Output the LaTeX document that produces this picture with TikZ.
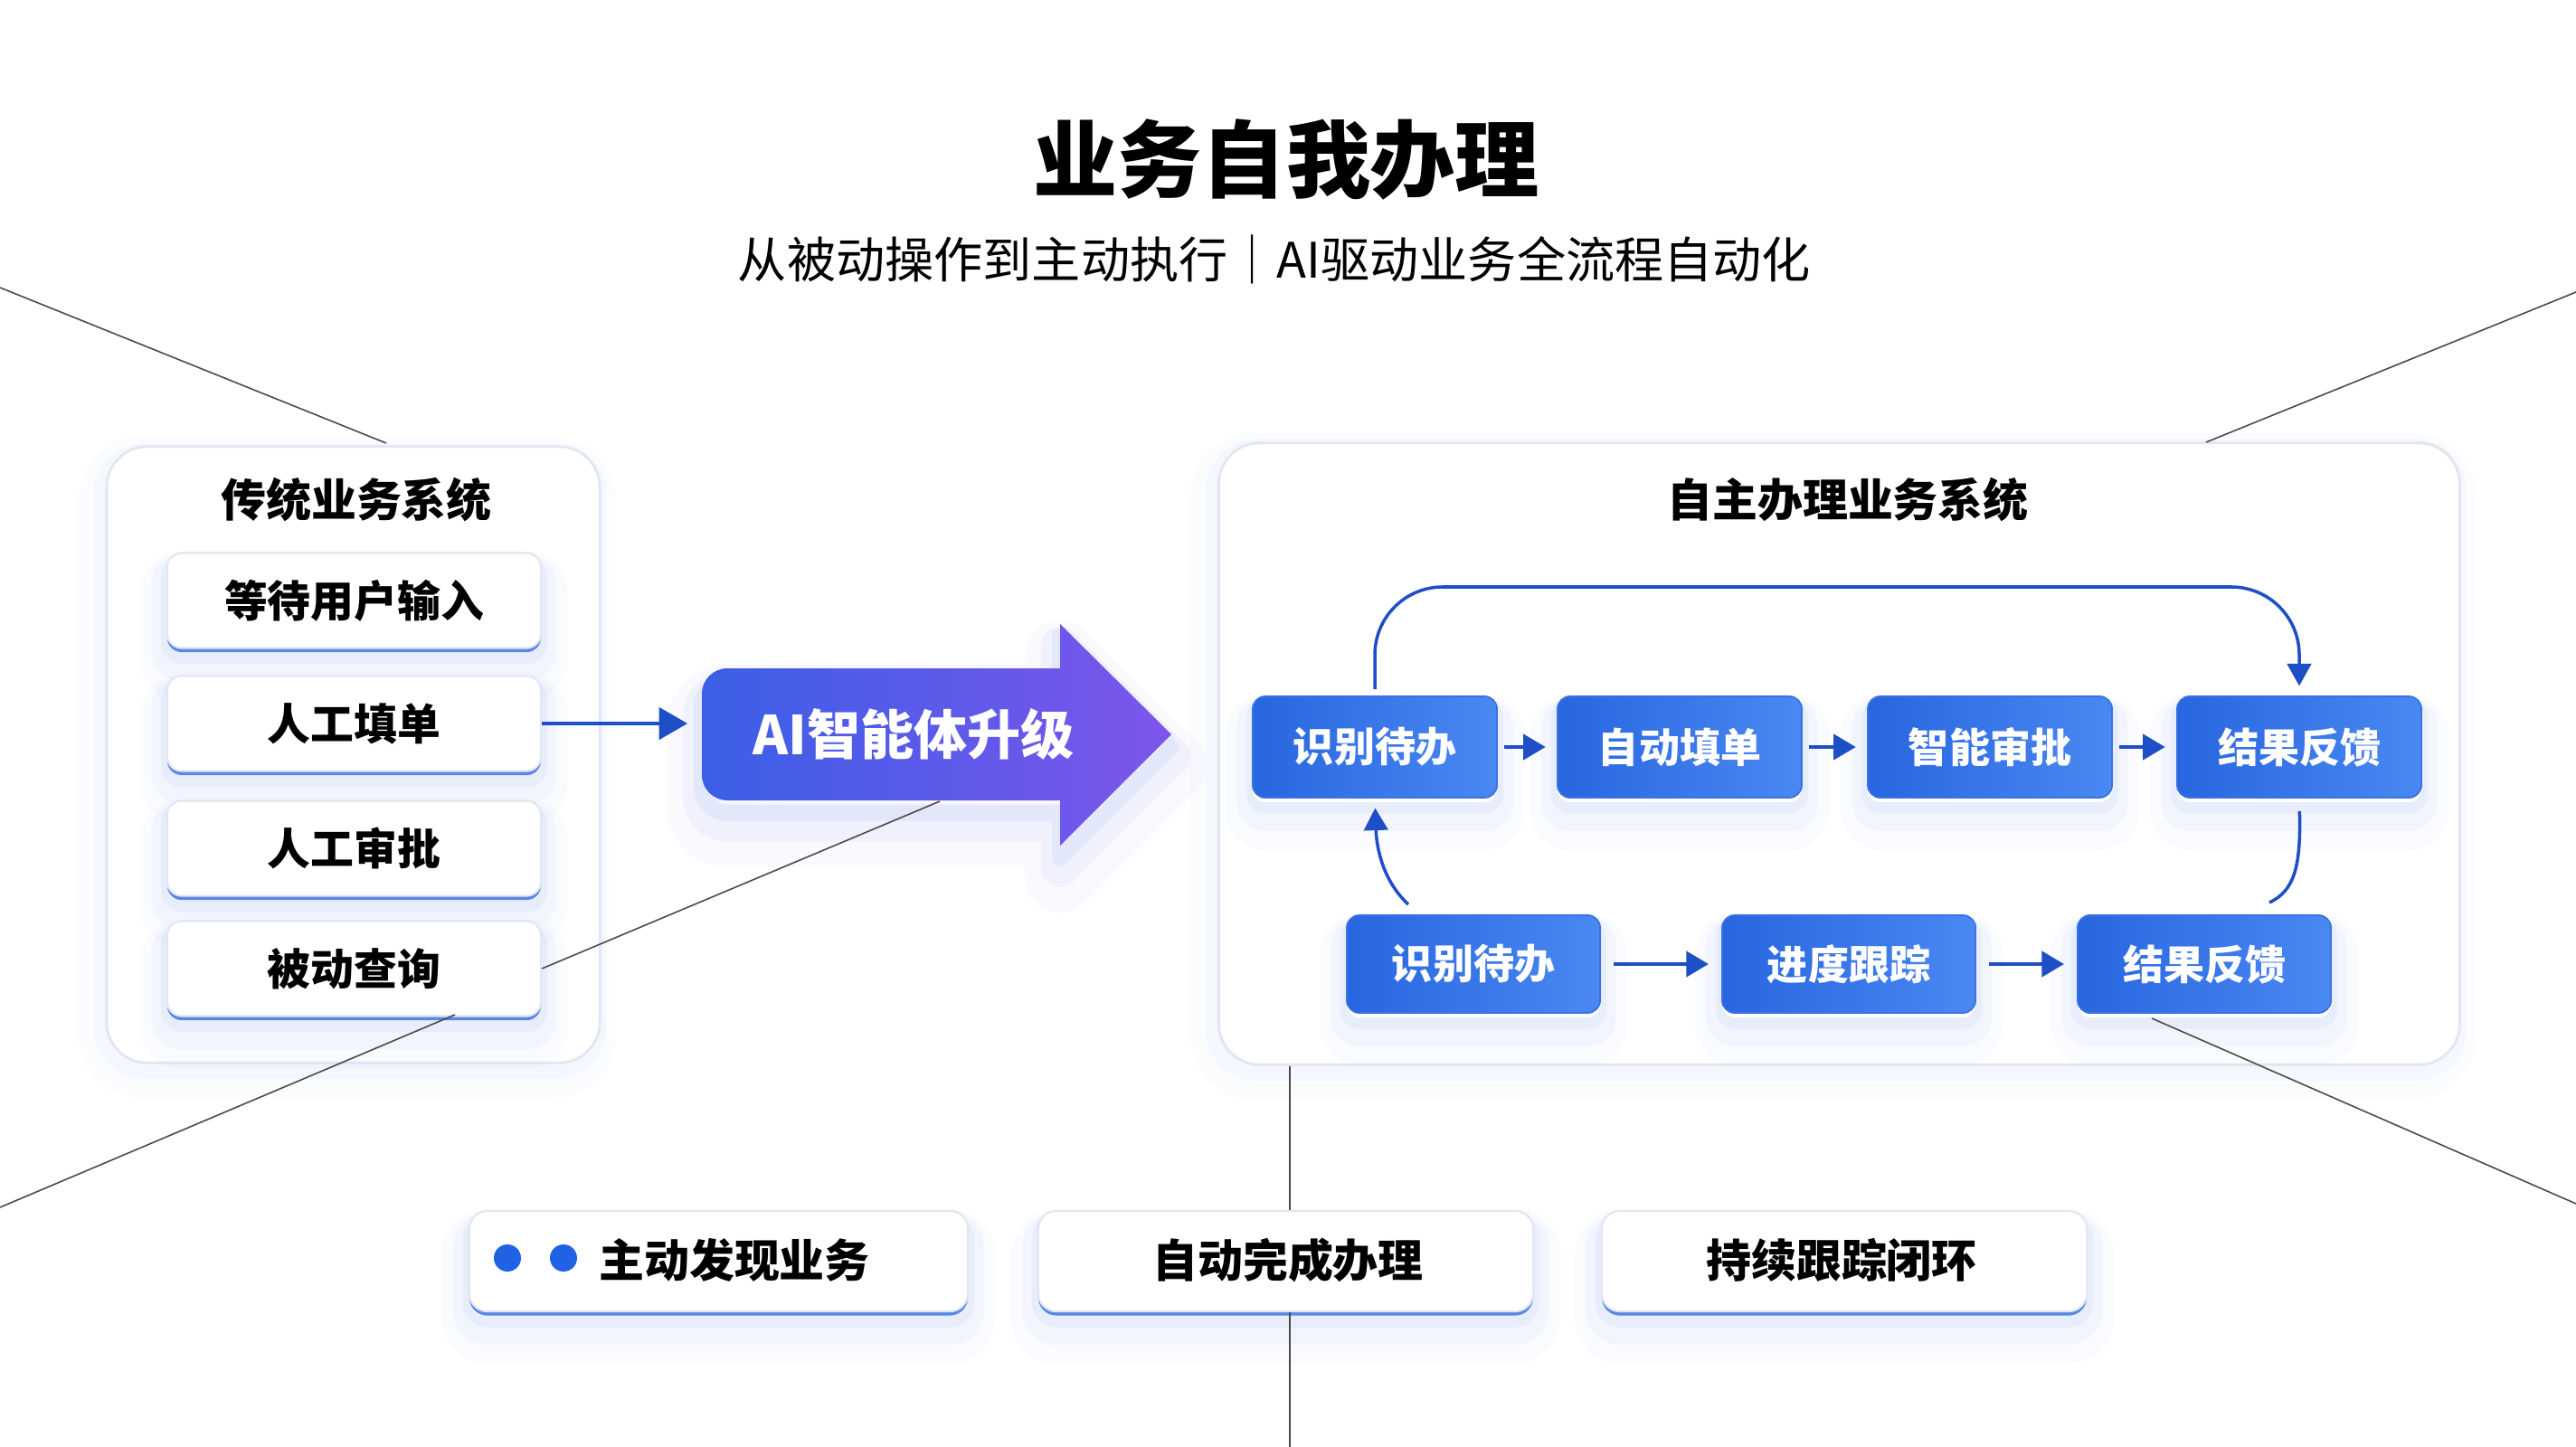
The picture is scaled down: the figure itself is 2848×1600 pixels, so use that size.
\documentclass[tikz,border=0pt]{standalone}
\usepackage{fontspec}
\setmainfont{Noto Sans CJK SC}
\usetikzlibrary{arrows.meta,shadows}

\definecolor{bluebox}{HTML}{2866E0}
\definecolor{blueboxlight}{HTML}{4A88F2}
\definecolor{boxedge}{HTML}{3A72E0}
\definecolor{bluearrow}{HTML}{1E4FC6}
\definecolor{glow}{HTML}{3D6FE8}
\definecolor{aiblue}{HTML}{3A5FE6}
\definecolor{aipurple}{HTML}{7E55EC}
\definecolor{deco}{HTML}{4A4A4A}
\definecolor{panelborder}{HTML}{E2E6F0}
\definecolor{dotblue}{HTML}{2062E4}

\tikzset{
  glowA/.style={
    preaction={draw=glow, draw opacity=0.025, line width=17pt, line join=round, transform canvas={yshift=-8pt}},
    preaction={draw=glow, draw opacity=0.04, line width=10pt, line join=round, transform canvas={yshift=-5.5pt}},
    preaction={draw=glow, draw opacity=0.06, line width=4pt, line join=round, transform canvas={yshift=-3pt}}},
  panel/.style={draw=panelborder, line width=0.8pt, fill=white, rounded corners=0.45cm,
    preaction={draw=glow, draw opacity=0.02, line width=14pt, transform canvas={xshift=-2pt, yshift=-4pt}},
    preaction={draw=glow, draw opacity=0.035, line width=6pt, transform canvas={xshift=-1pt, yshift=-2pt}}},
  paneltitle/.style={font=\bfseries\fontsize{14.2}{17}\selectfont, text=black},
  itembox/.style={glowA, general shadow={fill=bluebox, opacity=0.75, shadow xshift=0pt, shadow yshift=-1.3pt},
    draw=panelborder, line width=0.6pt, fill=white, rounded corners=0.16cm,
    minimum width=4.13cm, minimum height=1.05cm, font=\bfseries\fontsize{13.6}{16}\selectfont},
  bbox/.style={glowA, general shadow={fill=white, opacity=1, shadow xshift=0pt, shadow yshift=-1.4pt},
    draw=boxedge, line width=0.5pt, left color=bluebox, right color=blueboxlight,
    rounded corners=0.14cm, text=white, font=\bfseries\fontsize{12.8}{15}\selectfont},
  toprow/.style={bbox, minimum width=2.7cm, minimum height=1.12cm},
  botrow/.style={bbox, minimum width=2.8cm, minimum height=1.08cm},
  card/.style={glowA, general shadow={fill=bluebox, opacity=0.75, shadow xshift=0pt, shadow yshift=-1.3pt},
    draw=panelborder, line width=0.6pt, fill=white, rounded corners=0.2cm,
    minimum height=1.11cm},
  cardtext/.style={font=\bfseries\fontsize{14.2}{17}\selectfont, text=black},
  flow/.style={draw=bluearrow, line width=1.1pt, -{Triangle[length=7pt,width=8pt]}},
  loopline/.style={draw=bluearrow, line width=1pt},
  decoline/.style={draw=deco, line width=0.45pt},
}

\begin{document}
\begin{tikzpicture}[x=0.01cm, y=-0.01cm]
\useasboundingbox[fill=white] (0,0) rectangle (2848,1600);

% titles
\node (title) at (1422,176) {\bfseries\fontsize{26.5}{30}\selectfont 业务自我办理};
\node (sub) at (1409,287) {\fontsize{15.4}{18}\selectfont 从被动操作到主动执行｜AI驱动业务全流程自动化};

% left panel
\node[panel, minimum width=5.45cm, minimum height=6.81cm] (lp) at (390.5,834.5) {};
\node[paneltitle] (lpt) at (394,552) {传统业务系统};
\node[itembox] (i1) at (391.5,664) {等待用户输入};
\node[itembox] (i2) at (391.5,800) {人工填单};
\node[itembox] (i3) at (391.5,938) {人工审批};
\node[itembox] (i4) at (391.5,1071) {被动查询};

% AI arrow
\shade[left color=aiblue, right color=aipurple,
  preaction={draw=aipurple, draw opacity=0.03, line width=22pt, line join=round, transform canvas={yshift=-10pt}},
  preaction={draw=glow, draw opacity=0.05, line width=12pt, line join=round, transform canvas={yshift=-7pt}},
  preaction={draw=glow, draw opacity=0.07, line width=5pt, line join=round, transform canvas={yshift=-4pt}}]
  (1172,739) -- (1172,690) -- (1295,812) -- (1172,935) -- (1172,885)
  [rounded corners=8pt] -- (776,885) -- (776,739) [sharp corners] -- cycle;
\node[text=white, font=\bfseries\fontsize{16.8}{20}\selectfont] (ai) at (1010,812) {AI智能体升级};
\coordinate (aiw) at (776,800);
\coordinate (aibot) at (1039,886);
\draw[draw=bluearrow, line width=1.4pt, -{Triangle[length=9pt,width=10pt]}, shorten >=4.5pt]
  (i2.east) -- (aiw);

% right panel
\node[panel, minimum width=13.71cm, minimum height=6.87cm] (rp) at (2033.5,833.5) {};
\node[paneltitle] (rpt) at (2043,552) {自主办理业务系统};

\node[toprow] (t1) at (1520,826) {识别待办};
\node[toprow] (t2) at (1857,826) {自动填单};
\node[toprow] (t3) at (2200,826) {智能审批};
\node[toprow] (t4) at (2542,826) {结果反馈};

\node[botrow] (b1) at (1629,1066) {识别待办};
\node[botrow] (b2) at (2044,1066) {进度跟踪};
\node[botrow] (b3) at (2437,1066) {结果反馈};

\draw[flow, shorten <=2pt, shorten >=3.5pt] (t1.east) -- (t2.west);
\draw[flow, shorten <=2pt, shorten >=3.5pt] (t2.east) -- (t3.west);
\draw[flow, shorten <=2pt, shorten >=3.5pt] (t3.east) -- (t4.west);
\draw[flow, shorten <=4pt, shorten >=4pt] (b1.east) -- (b2.west);
\draw[flow, shorten <=4pt, shorten >=4pt] (b2.east) -- (b3.west);

% top loop
\draw[loopline, -{Triangle[length=7pt,width=7.5pt]}, rounded corners=0.75cm, shorten <=2pt, shorten >=3pt]
  (t1.north) -- (1520,649) -- (2542,649) -- (t4.north);

% bottom side curves
\coordinate (lc) at (1557,1000);
\coordinate (rc) at (2509,998);
\draw[loopline, -{Triangle[length=7pt,width=7.5pt]}, shorten >=3pt]
  (lc) .. controls (1530,975) and (1522,940) .. (t1.south);
\draw[loopline, shorten <=4pt]
  (t4.south) .. controls (2544,960) and (2536,985) .. (rc);

% bottom cards
\node[card, minimum width=5.51cm] (c1) at (794.5,1394.5) {};
\node[card, minimum width=5.47cm] (c2) at (1421.5,1394.5) {};
\node[card, minimum width=5.36cm] (c3) at (2039,1394.5) {};
\node[circle, fill=dotblue, minimum size=0.3cm, inner sep=0pt] (d1) at (561,1391) {};
\node[circle, fill=dotblue, minimum size=0.3cm, inner sep=0pt] (d2) at (623,1391) {};
\node[cardtext] (c1t) at (812,1393) {主动发现业务};
\node[cardtext] (c2t) at (1424,1393) {自动完成办理};
\node[cardtext] (c3t) at (2036,1393) {持续跟踪闭环};

% decorative lines
\coordinate (tl0) at (0,318);
\coordinate (tl1) at (427,490);
\coordinate (tr0) at (2848,323);
\coordinate (tr1) at (2439,489);
\coordinate (bl0) at (503,1122);
\coordinate (bl1) at (0,1335);
\coordinate (br0) at (2379,1126);
\coordinate (br1) at (2848,1331);
\coordinate (vb) at (1426,1600);
\draw[decoline] (tl0) -- (tl1);
\draw[decoline] (tr0) -- (tr1);
\draw[decoline] (i4.east) -- (aibot);
\draw[decoline] (bl0) -- (bl1);
\draw[decoline] (br0) -- (br1);
\draw[decoline] (rp.south -| vb) -- (c2.north -| vb);
\draw[decoline] (c2.south -| vb) -- (vb);
\end{tikzpicture}
\end{document}
